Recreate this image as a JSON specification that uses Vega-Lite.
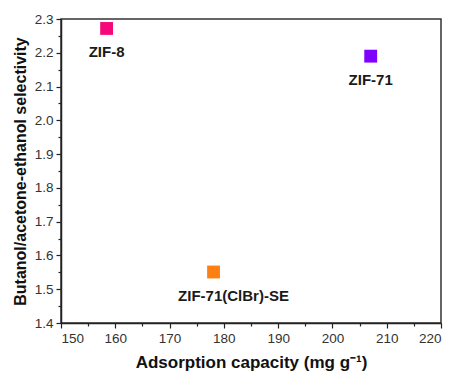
{
  "$schema": "https://vega.github.io/schema/vega-lite/v6.json",
  "width": 380,
  "height": 304,
  "autosize": {"type": "none"},
  "padding": {"left": 61, "top": 19, "right": 12, "bottom": 51},
  "background": "white",
  "config": {
    "view": {"stroke": "#333333", "strokeWidth": 1.5},
    "font": "Liberation Sans"
  },
  "data": {
    "values": [
      {"material": "ZIF-8", "capacity": 158.4, "selectivity": 2.272},
      {"material": "ZIF-71", "capacity": 207.05, "selectivity": 2.19},
      {"material": "ZIF-71(ClBr)-SE", "capacity": 178.1, "selectivity": 1.551}
    ]
  },
  "resolve": {"axis": {"x": "independent", "y": "independent"}},
  "layer": [
    {
      "mark": {"type": "point", "shape": "square", "filled": true, "size": 165, "opacity": 1},
      "encoding": {
        "x": {
          "field": "capacity", "type": "quantitative",
          "scale": {"domain": [150, 220], "nice": false, "zero": false},
          "axis": {
            "orient": "bottom",
            "values": [150, 160, 170, 180, 190, 200, 210, 220],
            "title": "Adsorption capacity (mg g⁻¹)",
            "titleFont": "Liberation Sans", "titleFontSize": 17, "titleFontWeight": "bold", "titleColor": "#111111",
            "titlePadding": 10,
            "labelFont": "Liberation Sans", "labelFontSize": 13.5, "labelColor": "#333333", "labelPadding": 3,
            "grid": false, "domainColor": "#222222", "domainWidth": 1.5,
            "tickColor": "#222222", "tickSize": 5, "tickWidth": 1.2
          }
        },
        "y": {
          "field": "selectivity", "type": "quantitative",
          "scale": {"domain": [1.4, 2.3], "nice": false, "zero": false},
          "axis": {
            "orient": "left",
            "values": [1.4, 1.5, 1.6, 1.7, 1.8, 1.9, 2.0, 2.1, 2.2, 2.3],
            "format": ".1f",
            "title": "Butanol/acetone-ethanol selectivity",
            "titleFont": "Liberation Sans", "titleFontSize": 16, "titleFontWeight": "bold", "titleColor": "#111111",
            "titlePadding": 6,
            "labelFont": "Liberation Sans", "labelFontSize": 13.5, "labelColor": "#333333", "labelPadding": 3,
            "grid": false, "domainColor": "#222222", "domainWidth": 1.5,
            "tickColor": "#222222", "tickSize": 5, "tickWidth": 1.2
          }
        },
        "color": {
          "field": "material", "type": "nominal",
          "scale": {"domain": ["ZIF-8", "ZIF-71", "ZIF-71(ClBr)-SE"], "range": ["#F5097A", "#8000FF", "#FF8012"]},
          "legend": null
        }
      }
    },
    {
      "transform": [{"filter": "datum.material !== 'ZIF-71(ClBr)-SE'"}],
      "mark": {"type": "text", "dy": 24, "fontWeight": "bold", "fontSize": 15, "font": "Liberation Sans", "color": "#1a1a1a"},
      "encoding": {
        "x": {
          "field": "capacity", "type": "quantitative",
          "scale": {"domain": [150, 220], "nice": false, "zero": false},
          "axis": {
            "orient": "bottom",
            "values": [155, 165, 175, 185, 195, 205, 215],
            "labels": false, "title": null, "domain": false, "grid": false,
            "tickColor": "#222222", "tickSize": 3, "tickWidth": 1.2
          }
        },
        "y": {
          "field": "selectivity", "type": "quantitative",
          "scale": {"domain": [1.4, 2.3], "nice": false, "zero": false},
          "axis": {
            "orient": "left",
            "values": [1.45, 1.55, 1.65, 1.75, 1.85, 1.95, 2.05, 2.15, 2.25],
            "labels": false, "title": null, "domain": false, "grid": false,
            "tickColor": "#222222", "tickSize": 3, "tickWidth": 1.2
          }
        },
        "text": {"field": "material", "type": "nominal"}
      }
    },
    {
      "transform": [{"filter": "datum.material === 'ZIF-71(ClBr)-SE'"}],
      "mark": {"type": "text", "dy": 24, "dx": 20, "fontWeight": "bold", "fontSize": 15, "font": "Liberation Sans", "color": "#1a1a1a"},
      "encoding": {
        "x": {
          "field": "capacity", "type": "quantitative",
          "scale": {"domain": [150, 220], "nice": false, "zero": false},
          "axis": null
        },
        "y": {
          "field": "selectivity", "type": "quantitative",
          "scale": {"domain": [1.4, 2.3], "nice": false, "zero": false},
          "axis": null
        },
        "text": {"field": "material", "type": "nominal"}
      }
    }
  ]
}
